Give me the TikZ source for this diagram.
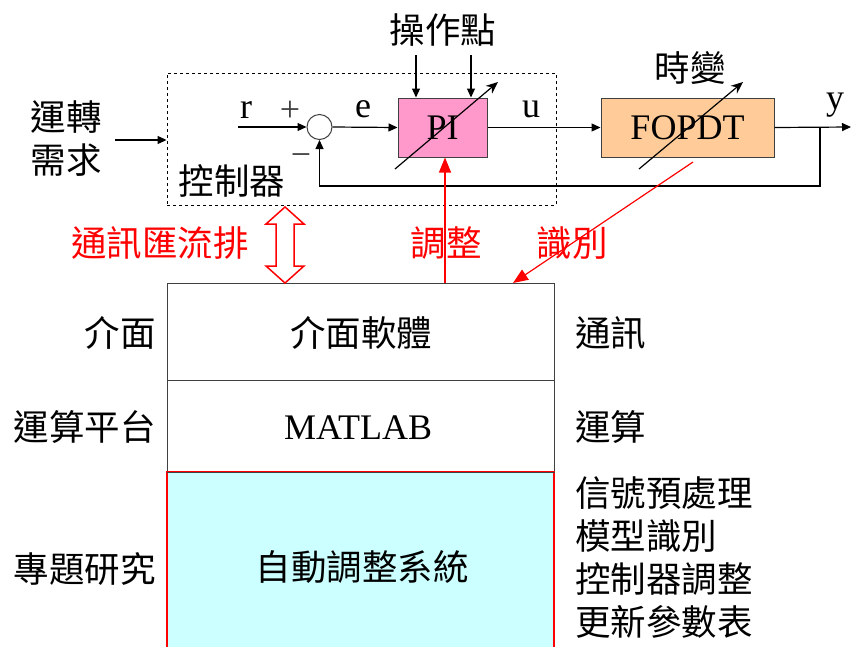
\documentclass[tikz,border=0pt]{standalone}
\usepackage{fontspec}
\setmainfont{Liberation Serif}
\newfontfamily\cjk{Noto Sans CJK TC}
\usetikzlibrary{arrows.meta}
\definecolor{pinkc}{HTML}{FF99CC}
\definecolor{orangec}{HTML}{FFCC99}
\definecolor{cyanc}{HTML}{CCFFFF}
\definecolor{edgec}{HTML}{404040}
\begin{document}
\begin{tikzpicture}[x=1pt,y=-1pt,
  every node/.style={font=\fontsize{36}{43}\selectfont, inner sep=0pt},
  zh/.style={font=\fontsize{35.5}{43}\selectfont\cjk},
  redzh/.style={zh, text=red},
  blockbox/.style={draw=edgec, line width=1pt},
  layerbox/.style={draw=edgec, line width=1pt, minimum width=387pt},
  arr/.style={line width=1.2pt, -{Triangle[length=9pt,width=8pt]}},
  redarr/.style={red, line width=1.2pt, -{Triangle[length=15pt,width=12pt]}},
  tune/.style={line width=1.2pt, -{Stealth[length=12pt,width=10pt]}}
]
\useasboundingbox (0,0) rectangle (851,646);
\clip (0,0) rectangle (851,646);
\fill[white] (0,0) rectangle (851,646);

% ---- controller dashed box ----
\node[draw, dashed, line width=0.9pt, minimum width=389pt, minimum height=132pt] (ctrl) at (361.5,139) {};
\node[zh] (ctrllbl) at (232,181) {控制器};

% ---- demand ----
\node[zh, align=center] (demand) at (66,139) {運轉\\需求};
\coordinate (dstart) at (115,140);
\draw[arr] (dstart) -- (ctrl.west |- dstart);

% ---- summing junction ----
\node[circle, draw=edgec, line width=1pt, minimum size=25pt] (sum) at (319.5,127) {};
\coordinate (rstart) at (238,127);
\draw[arr] (rstart) -- (sum.west);
\node (rlbl) at (246,110) {r};
\node[text=edgec] (plus) at (290,111) {+};
\node[text=edgec] (minus) at (301,160) {−};

% ---- PI ----
\node[blockbox, fill=pinkc, minimum width=89pt, minimum height=59pt] (pi) at (442.5,127.5) {PI};
\draw[arr] (sum.east) -- (pi.west);
\node (elbl) at (363,109) {e};
\coordinate (pa) at (395,169);
\coordinate (pb) at (498,82);
\draw[tune] (pa) -- (pb);

% operating point
\node[zh] (oplbl) at (443,30) {操作點};
\coordinate (op1) at (416,55);
\coordinate (op2) at (471,55);
\draw[arr] (op1) -- (op1 |- pi.north);
\draw[arr] (op2) -- (op2 |- pi.north);

% ---- FOPDT ----
\node[blockbox, fill=orangec, minimum width=173pt, minimum height=59pt] (fop) at (687.5,127.5) {FOPDT};
\draw[arr] (pi.east) -- (fop.west);
\node (ulbl) at (531,109) {u};
\coordinate (fa) at (639,169);
\coordinate (fb) at (743,82);
\draw[tune] (fa) -- (fb);
\node[zh] (tv) at (690,68) {時變};

% output and feedback
\coordinate (yend) at (851,127);
\coordinate (branch) at (820,127);
\coordinate (fbb) at (820,186);
\draw[arr] (fop.east) -- (yend);
\node (ylbl) at (835,105) {y};
\draw[arr] (branch) -- (fbb) -| (sum.south);

% ---- layered boxes ----
\node[fill=cyanc, draw=red, line width=1.2pt, minimum width=387pt, minimum height=193pt] (auto) at (360.5,568.5) {};
\node[layerbox, minimum height=97pt] (iface) at (360.5,331.5) {};
\node[layerbox, minimum height=92pt] (mat) at (360.5,426) {};
\draw[red, line width=1.2pt] (auto.north west) -- (auto.north east);

\node[zh] (ifacet) at (361,333) {介面軟體};
\node (matt) at (358,428) {MATLAB};
\node[zh] (autot) at (362,567) {自動調整系統};

% left labels
\node[zh, anchor=east] (l1) at (156,333) {介面};
\node[zh, anchor=east] (l2) at (156,427) {運算平台};
\node[zh, anchor=east] (l3) at (156,569) {專題研究};

% right labels
\node[zh, anchor=west] (r1) at (575,333) {通訊};
\node[zh, anchor=west] (r2) at (575,427) {運算};
\node[zh, anchor=west, align=left] (r3) at (575,558) {信號預處理\\模型識別\\控制器調整\\更新參數表};

% ---- red connectors ----
\draw[red, line width=1.5pt, fill=white]
  (285,207) -- (304,224) -- (294,224) -- (294,266) -- (304,266) -- (285,283)
  -- (266,266) -- (276,266) -- (276,224) -- (266,224) -- cycle;
\node[redzh] (busl) at (160,243) {通訊匯流排};

\coordinate (tunebase) at (445,283);
\draw[redarr] (tunebase) -- (tunebase |- pi.south);
\node[redzh] (tunel) at (446,243) {調整};

\coordinate (ida) at (693,162);
\coordinate (idb) at (513,283);
\draw[redarr] (ida) -- (idb);
\node[redzh] (idl) at (572,243) {識別};
\end{tikzpicture}
\end{document}
